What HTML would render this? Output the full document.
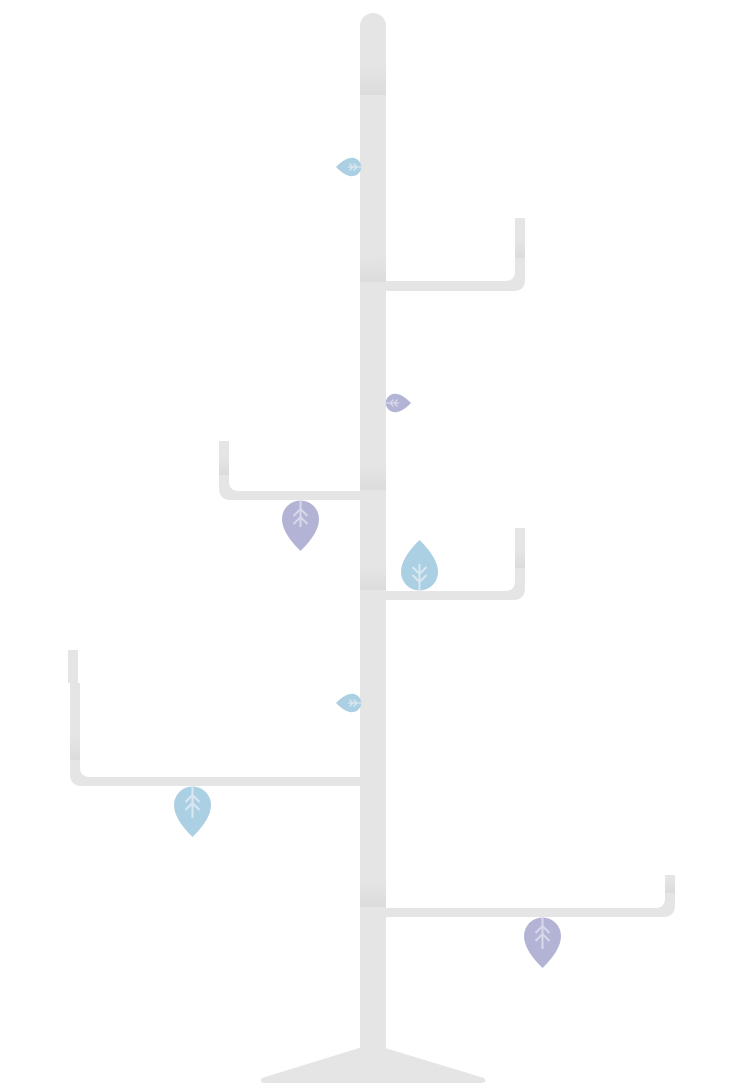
<!DOCTYPE html>
<html><head><meta charset="utf-8"><style>
html,body{margin:0;padding:0;background:#fff;width:755px;height:1085px;overflow:hidden}
svg{display:block}
</style></head><body>
<svg width="755" height="1085" viewBox="0 0 755 1085">
<defs>
<linearGradient id="sh" x1="0" y1="0" x2="0" y2="1"><stop offset="0" stop-color="#d6d6d6" stop-opacity="0"/><stop offset="1" stop-color="#d0d0d0" stop-opacity=".45"/></linearGradient>
</defs>
<g fill="#e5e5e5">
  <rect x="360" y="13" width="26" height="1045" rx="13"/>
  <path d="M372 1044 L262 1078 Q258 1083 266 1083 L480 1083 Q488 1083 484 1078 Z"/>
  <path d="M386 281 H505 Q515 281 515 271 V218 H525 V280 Q525 291 513 291 H386 Z"/>
  <path d="M360 491 H239 Q229 491 229 481 V441 H219 V488 Q219 500 231 500 H360 Z"/>
  <path d="M386 591 H505 Q515 591 515 581 V528 H525 V588 Q525 600 513 600 H386 Z"/>
  <path d="M360 777 H90 Q80 777 80 767 V683 H70 V774 Q70 786 82 786 H360 Z"/>
  <rect x="68" y="650" width="10" height="33"/>
  <path d="M386 908 H655 Q665 908 665 898 V875 H675 V905 Q675 917 663 917 H386 Z"/>
</g>
<g fill="url(#sh)">
  <rect x="360" y="65" width="26" height="30"/>
  <rect x="360" y="255" width="26" height="27"/>
  <rect x="360" y="465" width="26" height="25"/>
  <rect x="360" y="565" width="26" height="25"/>
  <rect x="360" y="880" width="26" height="27"/>
  <rect x="515" y="238" width="10" height="20"/>
  <rect x="515" y="548" width="10" height="20"/>
  <rect x="219" y="455" width="10" height="20"/>
  <rect x="70" y="735" width="10" height="25"/>
  <rect x="665" y="878" width="10" height="15"/>
</g>
<g id="leaves">
  <g transform="translate(361,167) rotate(90) scale(0.5)" fill="#abd0e3">
    <path d="M-18.5 18 A18.5 18.5 0 0 1 18.5 18 Q18.5 32 0 50 Q-18.5 32 -18.5 18 Z"/>
    <path d="M0 0 V26 M-7 15 L0 8 L7 15 M-7 23 L0 16 L7 23" stroke="#dbe7f0" stroke-width="2.5" fill="none"/>
  </g>
  <g transform="translate(386,403) rotate(-90) scale(0.5)" fill="#b3b3d6">
    <path d="M-18.5 18 A18.5 18.5 0 0 1 18.5 18 Q18.5 32 0 50 Q-18.5 32 -18.5 18 Z"/>
    <path d="M0 0 V26 M-7 15 L0 8 L7 15 M-7 23 L0 16 L7 23" stroke="#d8d8ea" stroke-width="2.5" fill="none"/>
  </g>
  <g transform="translate(300.5,501)" fill="#b3b3d6">
    <path d="M-18.5 18 A18.5 18.5 0 0 1 18.5 18 Q18.5 32 0 50 Q-18.5 32 -18.5 18 Z"/>
    <path d="M0 0 V26 M-7 15 L0 8 L7 15 M-7 23 L0 16 L7 23" stroke="#d8d8ea" stroke-width="2" fill="none"/>
  </g>
  <g transform="translate(419.5,590) rotate(180)" fill="#abd0e3">
    <path d="M-18.5 18 A18.5 18.5 0 0 1 18.5 18 Q18.5 32 0 50 Q-18.5 32 -18.5 18 Z"/>
    <path d="M0 0 V26 M-7 15 L0 8 L7 15 M-7 23 L0 16 L7 23" stroke="#dbe7f0" stroke-width="2" fill="none"/>
  </g>
  <g transform="translate(361,703) rotate(90) scale(0.5)" fill="#abd0e3">
    <path d="M-18.5 18 A18.5 18.5 0 0 1 18.5 18 Q18.5 32 0 50 Q-18.5 32 -18.5 18 Z"/>
    <path d="M0 0 V26 M-7 15 L0 8 L7 15 M-7 23 L0 16 L7 23" stroke="#dbe7f0" stroke-width="2.5" fill="none"/>
  </g>
  <g transform="translate(192.5,787)" fill="#abd0e3">
    <path d="M-18.5 18 A18.5 18.5 0 0 1 18.5 18 Q18.5 32 0 50 Q-18.5 32 -18.5 18 Z"/>
    <path d="M0 0 V31 M-7 15 L0 8 L7 15 M-7 23 L0 16 L7 23" stroke="#dbe7f0" stroke-width="2" fill="none"/>
  </g>
  <g transform="translate(542.5,918)" fill="#b3b3d6">
    <path d="M-18.5 18 A18.5 18.5 0 0 1 18.5 18 Q18.5 32 0 50 Q-18.5 32 -18.5 18 Z"/>
    <path d="M0 0 V31 M-7 15 L0 8 L7 15 M-7 23 L0 16 L7 23" stroke="#d8d8ea" stroke-width="2" fill="none"/>
  </g>
</g>
</svg>
</body></html>
